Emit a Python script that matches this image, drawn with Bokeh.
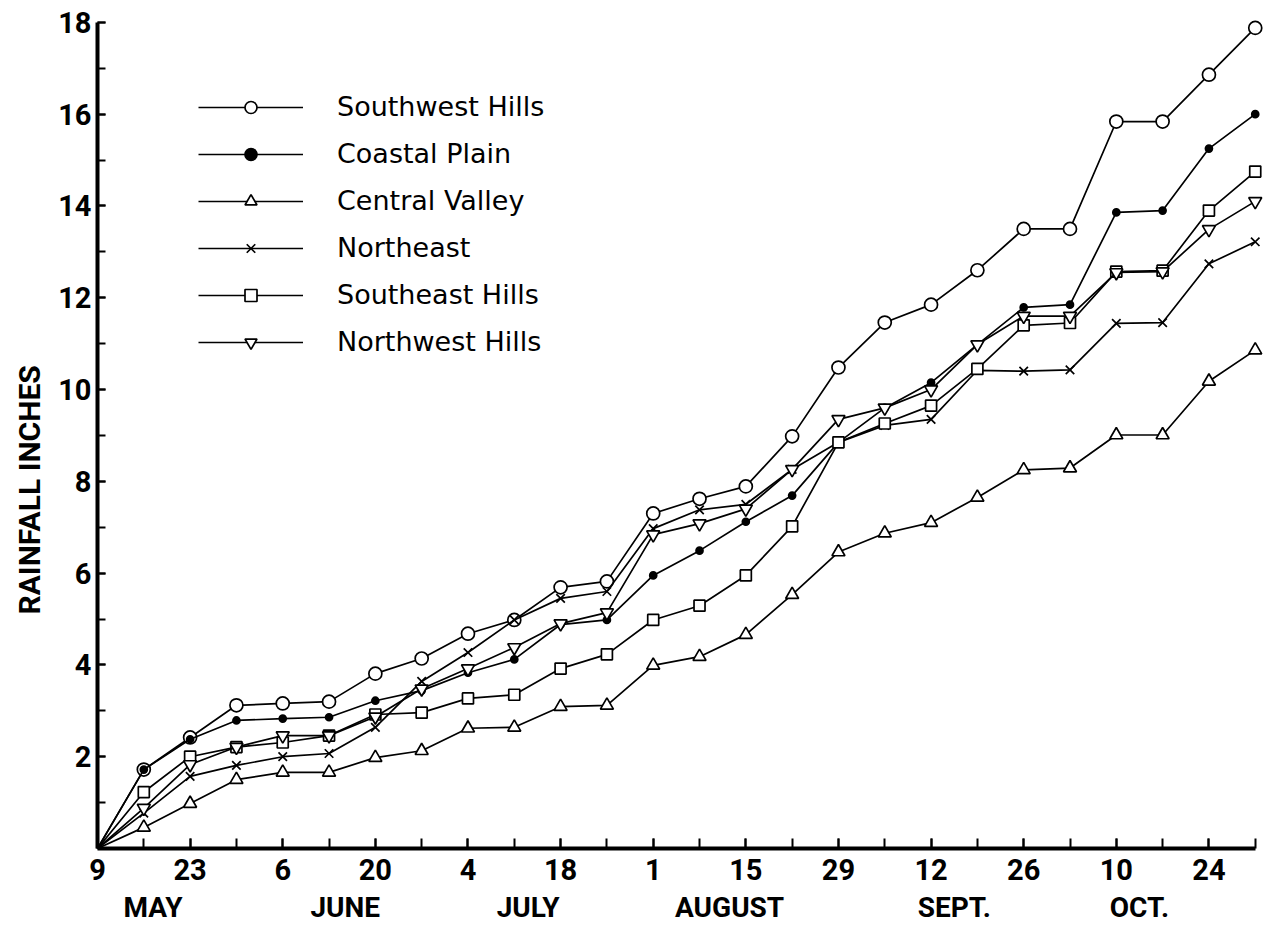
from bokeh.plotting import figure
from bokeh.models import Range1d, FixedTicker, LinearAxis, Legend, LegendItem, Title
from bokeh.embed import file_html
from bokeh.resources import INLINE

# ---- data (cumulative rainfall, inches; weekly readings from May 9) ----
DATES = ["May 9", "May 16", "May 23", "May 30", "Jun 6", "Jun 13", "Jun 20", "Jun 27",
         "Jul 4", "Jul 11", "Jul 18", "Jul 25", "Aug 1", "Aug 8", "Aug 15", "Aug 22",
         "Aug 29", "Sep 5", "Sep 12", "Sep 19", "Sep 26", "Oct 3", "Oct 10", "Oct 17",
         "Oct 24", "Oct 31"]

southwest_hills = [0, 1.72, 2.42, 3.12, 3.16, 3.20, 3.81, 4.14, 4.68, 4.98, 5.69, 5.82, 7.30,
                   7.62, 7.89, 8.98, 10.48, 11.46, 11.85, 12.60, 13.50, 13.50, 15.84, 15.84,
                   16.86, 17.88]
coastal_plain = [0, 1.72, 2.38, 2.79, 2.83, 2.86, 3.22, 3.44, 3.83, 4.12, 4.88, 4.98, 5.95,
                 6.49, 7.12, 7.69, 8.85, 9.60, 10.15, 10.98, 11.79, 11.85, 13.86, 13.90,
                 15.25, 16.00]
central_valley = [0, 0.46, 0.98, 1.50, 1.66, 1.66, 1.98, 2.13, 2.62, 2.64, 3.09, 3.12, 3.99,
                  4.18, 4.66, 5.53, 6.46, 6.87, 7.10, 7.65, 8.25, 8.29, 9.01, 9.01, 10.18,
                  10.86]
northeast = [0, 0.77, 1.57, 1.81, 2.00, 2.07, 2.64, 3.64, 4.27, 4.98, 5.45, 5.60, 6.97, 7.38,
             7.50, 8.26, 8.85, 9.22, 9.35, 10.42, 10.40, 10.43, 11.44, 11.46, 12.74, 13.22]
southeast_hills = [0, 1.23, 2.00, 2.21, 2.31, 2.46, 2.92, 2.96, 3.27, 3.35, 3.92, 4.23, 4.98,
                   5.29, 5.95, 7.02, 8.85, 9.26, 9.65, 10.45, 11.40, 11.45, 12.57, 12.59,
                   13.90, 14.75]
northwest_hills = [0, 0.88, 1.83, 2.21, 2.46, 2.46, 2.87, 3.48, 3.92, 4.38, 4.90, 5.14, 6.84,
                   7.08, 7.40, 8.26, 9.35, 9.60, 10.00, 10.98, 11.60, 11.60, 12.55, 12.57,
                   13.49, 14.10]

SERIES_NAMES = ["Southwest Hills", "Coastal Plain", "Central Valley", "Northeast",
                "Southeast Hills", "Northwest Hills"]
SERIES_VALUES = [southwest_hills, coastal_plain, central_valley, northeast,
                 southeast_hills, northwest_hills]

MONTH_LABELS = ["MAY", "JUNE", "JULY", "AUGUST", "SEPT.", "OCT."]
Y_TICKS = [2, 4, 6, 8, 10, 12, 14, 16, 18]
Y_LABEL = "RAINFALL  INCHES"

# ---- layout / style ----
WEEKS = list(range(len(DATES)))
MONTH_POS = [1.2, 5.35, 9.3, 13.65, 18.5, 22.5]   # label placement along the week axis
MARKERS = [
    dict(marker="circle", size=13, fill_color="white"),
    dict(marker="circle", size=7, fill_color="black"),
    dict(marker="triangle", size=13, fill_color="white"),
    dict(marker="x", size=12, fill_color="white"),
    dict(marker="square", size=11, fill_color="white"),
    dict(marker="inverted_triangle", size=13, fill_color="white"),
]
TICK_FONT = "Roboto"

p = figure(frame_width=1167, frame_height=844,
           x_range=Range1d(0, 25.2), y_range=Range1d(0, 18.39),
           output_backend="svg", toolbar_location=None,
           min_border_left=97, min_border_right=4, min_border_top=4, min_border_bottom=77,
           background_fill_color="white", border_fill_color="white")
p.outline_line_color = None
p.xgrid.visible = False
p.ygrid.visible = False

items = []
for name, vals, mk in zip(SERIES_NAMES, SERIES_VALUES, MARKERS):
    lr = p.line(WEEKS, vals, line_color="black", line_width=1.7)
    sr = p.scatter(WEEKS[1:], vals[1:], marker=mk["marker"], size=mk["size"],
                   fill_color=mk["fill_color"], line_color="black", line_width=1.7)
    items.append(LegendItem(label=name, renderers=[lr, sr]))

# x axis (days)
xa = p.xaxis[0]
xa.ticker = FixedTicker(ticks=WEEKS[::2], minor_ticks=WEEKS)
xa.major_label_overrides = {w: DATES[w].split()[1] for w in WEEKS[::2]}
xa.bounds = (0, WEEKS[-1])
xa.axis_line_width = 4
xa.axis_line_color = "black"
xa.major_tick_in = 10
xa.major_tick_out = 0
xa.minor_tick_in = 10
xa.minor_tick_out = 0
xa.major_tick_line_width = 2
xa.minor_tick_line_width = 2
xa.major_tick_line_color = "black"
xa.minor_tick_line_color = "black"
xa.major_label_text_font = TICK_FONT
xa.major_label_text_font_style = "bold"
xa.major_label_text_font_size = "29px"
xa.major_label_text_color = "black"
xa.major_label_standoff = 10

# month row
ma = LinearAxis(ticker=FixedTicker(ticks=MONTH_POS, minor_ticks=[]),
                major_label_overrides={pos: m for pos, m in zip(MONTH_POS, MONTH_LABELS)})
ma.axis_line_color = None
ma.major_tick_line_color = None
ma.minor_tick_line_color = None
ma.major_tick_out = 0
ma.major_tick_in = 0
ma.major_label_text_font = TICK_FONT
ma.major_label_text_font_style = "bold"
ma.major_label_text_font_size = "28px"
ma.major_label_text_color = "black"
ma.major_label_standoff = 8
p.add_layout(ma, "below")

# y axis
ya = p.yaxis[0]
ya.ticker = FixedTicker(ticks=Y_TICKS, minor_ticks=list(range(0, Y_TICKS[-1] + 1)))
ya.bounds = (0, Y_TICKS[-1])
ya.axis_line_width = 4
ya.axis_line_color = "black"
ya.major_tick_in = 8
ya.major_tick_out = 0
ya.minor_tick_in = 8
ya.minor_tick_out = 0
ya.major_tick_line_width = 2
ya.minor_tick_line_width = 2
ya.major_tick_line_color = "black"
ya.minor_tick_line_color = "black"
ya.major_label_text_font = TICK_FONT
ya.major_label_text_font_style = "bold"
ya.major_label_text_font_size = "29px"
ya.major_label_text_color = "black"
ya.major_label_standoff = 6

# vertical axis title, placed along the left side
ytitle = Title(text=Y_LABEL, align="left", offset=234, standoff=18,
               text_font=TICK_FONT, text_font_style="bold", text_font_size="30px",
               text_color="black")
p.add_layout(ytitle, "left")

legend = Legend(items=items, location=(101, 491), orientation="vertical",
                border_line_color=None, background_fill_alpha=0,
                padding=0, margin=0, spacing=16,
                glyph_width=105, glyph_height=30, label_height=30, label_standoff=34,
                label_text_font="DejaVu Sans", label_text_font_size="27px",
                label_text_color="black", label_text_baseline="middle")
p.add_layout(legend)

open("out.html", "w").write(file_html(p, INLINE))
